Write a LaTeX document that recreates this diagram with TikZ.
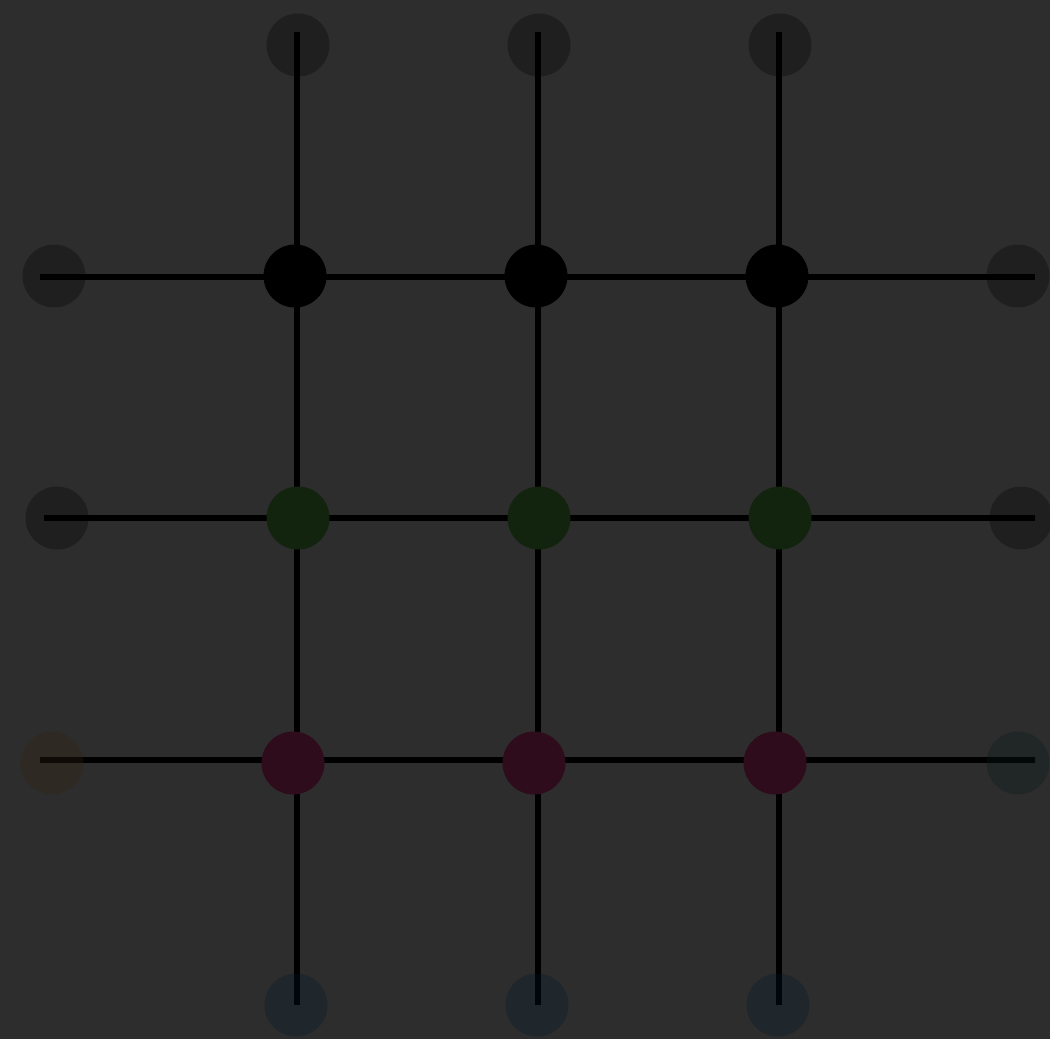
\documentclass[tikz,border=0pt]{standalone}
\begin{document}
\begin{tikzpicture}[x=1pt,y=-1pt,
  wire/.style={line width=5.5pt,black},
  dot/.style={circle,minimum size=63pt,inner sep=0pt,draw=none},
  ghost/.style={dot,fill opacity=0.3}]
\definecolor{bg}{HTML}{2D2D2D}
\definecolor{leafgreen}{HTML}{12240E}
\definecolor{wine}{HTML}{2E0C1B}
\definecolor{gblue}{RGB}{0,22,42}
\definecolor{gbrown}{RGB}{52,35,18}
\definecolor{gteal}{RGB}{8,28,28}
\fill[bg] (0,0) rectangle (1050,1039);
\useasboundingbox (0,0) rectangle (1050,1039);
% line end points
\coordinate (t1) at (297,32); \coordinate (t2) at (538,32); \coordinate (t3) at (779,32);
\coordinate (b1) at (297,1005); \coordinate (b2) at (538,1005); \coordinate (b3) at (779,1005);
\coordinate (l1) at (40,277); \coordinate (l2) at (44,518); \coordinate (l3) at (40,760);
\coordinate (r1) at (1035,277); \coordinate (r2) at (1035,518); \coordinate (r3) at (1035,760);
\draw[wire] (t1) -- (b1);
\draw[wire] (t2) -- (b2);
\draw[wire] (t3) -- (b3);
\draw[wire] (l1) -- (r1);
\draw[wire] (l2) -- (r2);
\draw[wire] (l3) -- (r3);
% inner nodes
\node[dot,fill=black] (a1) at (295,276) {};
\node[dot,fill=black] (a2) at (536,276) {};
\node[dot,fill=black] (a3) at (777,276) {};
\node[dot,fill=leafgreen] (g1) at (298,518) {};
\node[dot,fill=leafgreen] (g2) at (539,518) {};
\node[dot,fill=leafgreen] (g3) at (780,518) {};
\node[dot,fill=wine] (m1) at (293,763) {};
\node[dot,fill=wine] (m2) at (534,763) {};
\node[dot,fill=wine] (m3) at (775,763) {};
% outer ghost nodes
\node[ghost,fill=black] (T1) at (298,45) {};
\node[ghost,fill=black] (T2) at (539,45) {};
\node[ghost,fill=black] (T3) at (780,45) {};
\node[ghost,fill=black] (L1) at (54,276) {};
\node[ghost,fill=black] (L2) at (57,518) {};
\node[ghost,fill=gbrown] (L3) at (52,763) {};
\node[ghost,fill=black] (R1) at (1018,276) {};
\node[ghost,fill=black] (R2) at (1021,518) {};
\node[ghost,fill=gteal] (R3) at (1018,763) {};
\node[ghost,fill=gblue] (B1) at (296,1005) {};
\node[ghost,fill=gblue] (B2) at (537,1005) {};
\node[ghost,fill=gblue] (B3) at (778,1005) {};
\end{tikzpicture}
\end{document}
